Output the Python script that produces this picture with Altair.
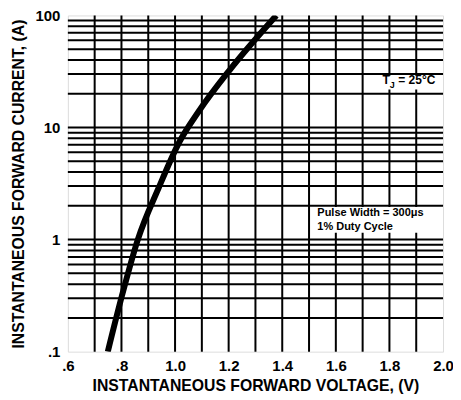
import altair as alt
import pandas as pd

# curve data
volt = [0.749, 0.801, 0.861, 0.939, 1.017, 1.088, 1.203, 1.378]
curr = [0.1, 0.31, 1.0, 2.9, 7.5, 13.9, 32.4, 100.0]

# grid lines
x_grid = [0.7, 0.8, 0.9, 1.0, 1.1, 1.2, 1.3, 1.4, 1.5, 1.6, 1.7, 1.8, 1.9]
y_grid = [0.2, 0.3, 0.4, 0.5, 0.6, 0.7, 0.8, 0.9,
          1, 2, 3, 4, 5, 6, 7, 8, 9,
          10, 20, 30, 40, 50, 60, 70, 80, 90]

# tick labels
x_labels = [0.6, 0.8, 1.0, 1.2, 1.4, 1.6, 1.8, 2.0]
y_labels = [0.1, 1, 10, 100]

# annotation boxes (white background) and texts
box_x = [1.77, 1.515]
box_x2 = [1.99, 1.935]
box_y = [21.8, 1.15]
box_y2 = [29.0, 1.95]

note_text = ["Pulse Width = 300\u03bcs", "1% Duty Cycle"]
note_x = [1.531, 1.531]
note_y = [1.73, 1.30]

tj_parts = ["T", "J", "= 25\u00b0C"]
tj_x = [1.774, 1.801, 1.833]
tj_y = [26.4, 24.0, 26.4]

FONT = "Liberation Sans"

curve_df = pd.DataFrame({"v": volt, "i": curr})
xg_df = pd.DataFrame({"x": x_grid})
yg_df = pd.DataFrame({"y": y_grid})
box_df = pd.DataFrame({"x": box_x, "x2": box_x2, "y": box_y, "y2": box_y2})
note_df = pd.DataFrame({"t": note_text, "x": note_x, "y": note_y})
tj_df = pd.DataFrame({"t": tj_parts, "x": tj_x, "y": tj_y})

xscale = alt.Scale(domain=[0.6, 2.0], nice=False, zero=False)
yscale = alt.Scale(type="log", domain=[0.1, 100], nice=False)

x_label_expr = ("datum.value<1 ? replace(format(datum.value,'.1f'),'0.','.') "
                ": format(datum.value,'.1f')")
y_label_expr = ("datum.value==100 ? '100' : datum.value==10 ? '10' : "
                "datum.value==1 ? '1' : '.1'")

xaxis = alt.Axis(values=x_labels, labelExpr=x_label_expr, grid=False, ticks=False, domain=False,
                 title="INSTANTANEOUS FORWARD VOLTAGE, (V)", titleFont=FONT,
                 titleFontSize=15.8, titleFontWeight="bold", titleColor="black",
                 labelFont=FONT, labelFontSize=15, labelFontWeight="bold",
                 labelColor="black", labelPadding=7, titlePadding=5,
                 labelFlush=False, labelOverlap=False)
yaxis = alt.Axis(values=y_labels, labelExpr=y_label_expr, grid=False, ticks=False, domain=False,
                 title="INSTANTANEOUS FORWARD CURRENT, (A)", titleFont=FONT,
                 titleFontSize=15.8, titleFontWeight="bold", titleColor="black",
                 labelFont=FONT, labelFontSize=15, labelFontWeight="bold",
                 labelColor="black", labelPadding=8, titlePadding=8,
                 labelFlush=False, labelOverlap=False)

xgrid = alt.Chart(xg_df).mark_rule(color="black", strokeWidth=2).encode(
    x=alt.X("x:Q", scale=xscale, axis=xaxis)
)
ygrid = alt.Chart(yg_df).mark_rule(color="black", strokeWidth=2).encode(
    y=alt.Y("y:Q", scale=yscale, axis=yaxis)
)

curve = alt.Chart(curve_df).mark_line(
    color="black", strokeWidth=6, interpolate="monotone", clip=True, strokeCap="butt"
).encode(
    x=alt.X("v:Q", scale=xscale),
    y=alt.Y("i:Q", scale=yscale),
)

boxes = alt.Chart(box_df).mark_rect(color="white").encode(
    x=alt.X("x:Q", scale=xscale), x2="x2:Q",
    y=alt.Y("y:Q", scale=yscale), y2="y2:Q",
)

notes = alt.Chart(note_df).mark_text(
    align="left", baseline="middle", font=FONT, fontSize=11, fontWeight="bold", color="black"
).encode(
    x=alt.X("x:Q", scale=xscale), y=alt.Y("y:Q", scale=yscale), text="t:N"
)

tj_main = alt.Chart(tj_df).transform_filter(alt.datum.t != "J").mark_text(
    align="left", baseline="middle", font=FONT, fontSize=12, fontWeight="bold", color="black"
).encode(x=alt.X("x:Q", scale=xscale), y=alt.Y("y:Q", scale=yscale), text="t:N")
tj_sub = alt.Chart(tj_df).transform_filter(alt.datum.t == "J").mark_text(
    align="left", baseline="middle", font=FONT, fontSize=9, fontWeight="bold", color="black"
).encode(x=alt.X("x:Q", scale=xscale), y=alt.Y("y:Q", scale=yscale), text="t:N")

chart = alt.layer(xgrid, ygrid, curve, boxes, notes, tj_main, tj_sub).properties(
    width=376, height=337,
    autosize=alt.AutoSizeParams(type="none"),
    padding={"left": 60, "top": 7, "right": 10, "bottom": 48},
).configure_view(stroke="black", strokeWidth=3).configure(background="white")

chart.save("out.html", embed_options={"renderer": "svg", "actions": False})
